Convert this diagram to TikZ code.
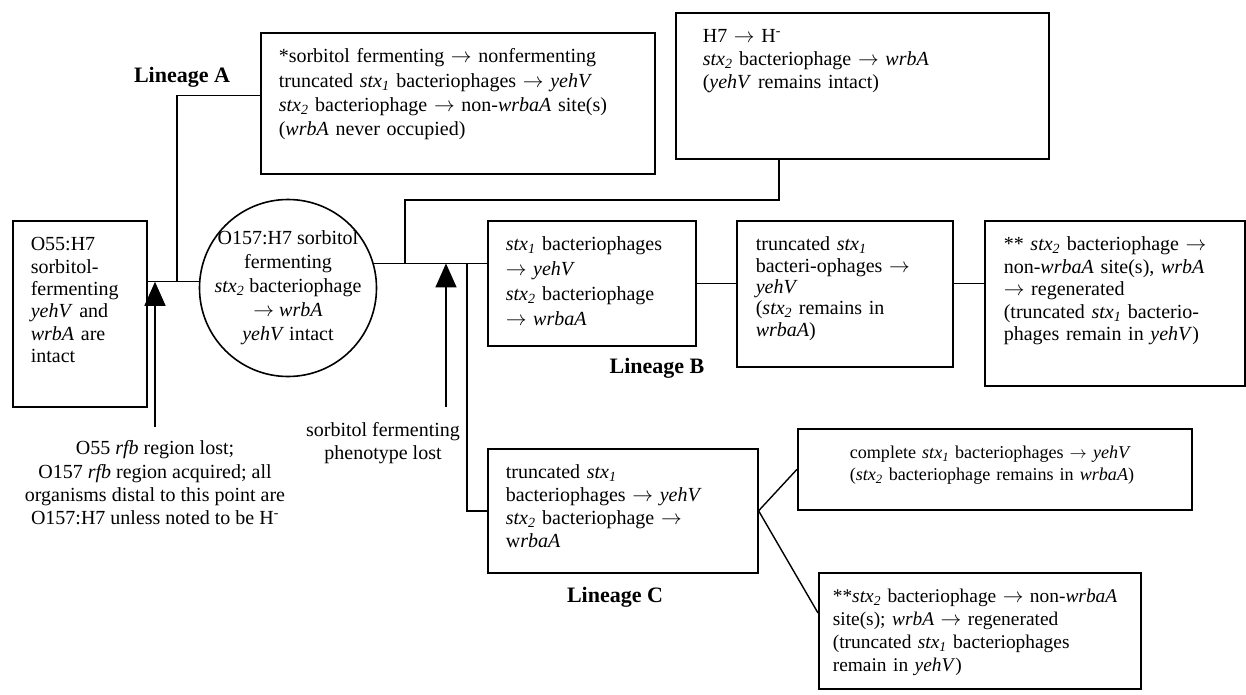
\documentclass[tikz,border=0pt]{standalone}
\usepackage{fontspec}
\setmainfont{Liberation Serif}
\usetikzlibrary{arrows.meta, calc}
\newcommand{\stxg}[1]{\textit{stx}\textsubscript{\textit{#1}}}
\newcommand{\goesto}{$\rightarrow$}
\tikzset{
  every picture/.style={line width=1.4pt},
  stage/.style={draw, line width=1.6pt, anchor=north west, align=left, inner xsep=18pt, inner ysep=8pt, text height=22pt, font=\fontsize{20}{23}\selectfont},
  ancestor/.style={draw, circle, line width=1.6pt, minimum size=177pt, inner sep=-10pt, align=center, font=\fontsize{20}{24}\selectfont},
  lineage/.style={font=\fontsize{22}{26}\selectfont\bfseries},
  note/.style={align=center, font=\fontsize{20}{23.3}\selectfont},
  event/.style={-{Triangle[length=24pt,width=21pt]}},
}

\begin{document}
\begin{tikzpicture}[x=1pt, y=-1pt]
  \useasboundingbox (0,0) rectangle (1246,695);
  \node[stage, text width=98pt, text depth=148pt, font=\fontsize{20}{22.3}\selectfont] (o55) at (12,220) {O55:H7\\sorbitol-\\fermenting\\\textit{yehV} and\\\textit{wrbA} are\\intact};
  \node[ancestor] (parent) at (288,288) {O157:H7 sorbitol\\fermenting\\\stxg{2} bacteriophage\\\goesto{} \textit{wrbA}\\\textit{yehV} intact};
  \node[stage, text width=358pt, text depth=103pt, font=\fontsize{20}{24.3}\selectfont] (linA) at (260,32) {*sorbitol fermenting \goesto{} nonfermenting\\truncated \stxg{1} bacteriophages \goesto{} \textit{yehV}\\\stxg{2} bacteriophage \goesto{} non-\textit{wrbaA} site(s)\\(\textit{wrbA} never occupied)};
  \node[stage, inner xsep=27pt, text width=319pt, text depth=108pt] (h7) at (675,12) {H7 \goesto{} H\textsuperscript{-}\\\stxg{2} bacteriophage \goesto{} \textit{wrbA}\\(\textit{yehV} remains intact)};
  \node[stage, text width=172pt, text depth=87pt, font=\fontsize{20}{25}\selectfont] (b1) at (487,220) {\stxg{1} bacteriophages\\\goesto{} \textit{yehV}\\\stxg{2} bacteriophage\\\goesto{} \textit{wrbaA}};
  \node[stage, inner xsep=19pt, text width=178pt, text depth=108pt, font=\fontsize{20}{21.3}\selectfont] (b2) at (736,220) {truncated \stxg{1}\\bacteri-ophages \goesto\\\textit{yehV}\\(\stxg{2} remains in\\\textit{wrbaA})};
  \node[stage, inner xsep=19pt, text width=222pt, text depth=127pt, font=\fontsize{20}{22.5}\selectfont] (b3) at (984,220) {** \stxg{2} bacteriophage \goesto\\non-\textit{wrbaA} site(s), \textit{wrbA}\\\goesto{} regenerated\\(truncated \stxg{1} bacterio-\\phages remain in \textit{yehV})};
  \node[stage, text width=234pt, text depth=86pt] (c1) at (487,448) {truncated \stxg{1}\\bacteriophages \goesto{} \textit{yehV}\\\stxg{2} bacteriophage \goesto\\w\textit{rbaA}};
  \node[stage, inner xsep=52pt, text width=290pt, text depth=43pt, font=\fontsize{18.1}{22}\selectfont] (c2) at (797,428) {complete \stxg{1} bacteriophages \goesto{} \textit{yehV}\\(\stxg{2} bacteriophage remains in \textit{wrbaA})};
  \node[stage, inner xsep=14pt, text width=294pt, text depth=78pt, font=\fontsize{19.4}{23}\selectfont] (c3) at (818,572) {**\stxg{2} bacteriophage \goesto{} non-\textit{wrbaA}\\site(s); \textit{wrbA} \goesto{} regenerated\\(truncated \stxg{1} bacteriophages\\remain in \textit{yehV})};
  \node[lineage] (labA) at (182,77) {Lineage A};
  \node[lineage] (labB) at (657,368) {Lineage B};
  \node[lineage] (labC) at (615,597) {Lineage C};
  \node[note] (rfb) at (155,483) {O55 \textit{rfb} region lost;\\O157 \textit{rfb} region acquired; all\\organisms distal to this point are\\O157:H7 unless noted to be H\textsuperscript{-}};
  \node[note] (sorb) at (383,443) {sorbitol fermenting\\phenotype lost};
  \coordinate (ja) at (177,282);
  \coordinate (jh) at (405,200);
  \coordinate (jc) at (467,263);
  \coordinate (ev1) at (155,427);
  \coordinate (ev2) at (446,407);
  \draw (o55.east |- parent.176) -- (parent.176);
  \draw ([yshift=7.5pt]linA.west) -| (ja);
  \draw (parent.16) -- (parent.16 -| b1.west);
  \draw ([xshift=-83.5pt]h7.south) |- (jh) -- (jh |- parent.16);
  \draw (jc) |- (c1.west);
  \draw (b1.east) -- (b1.east -| b2.west);
  \draw (b2.east |- b1.east) -- (b3.west |- b1.east);
  \draw (c1.east) -- (c2.west);
  \draw (c1.east) -- ([yshift=-41pt]c3.north west);
  \draw[event] (ev1) -- (ev1 |- parent.176);
  \draw[event] (ev2) -- (ev2 |- parent.16);
\end{tikzpicture}
\end{document}
